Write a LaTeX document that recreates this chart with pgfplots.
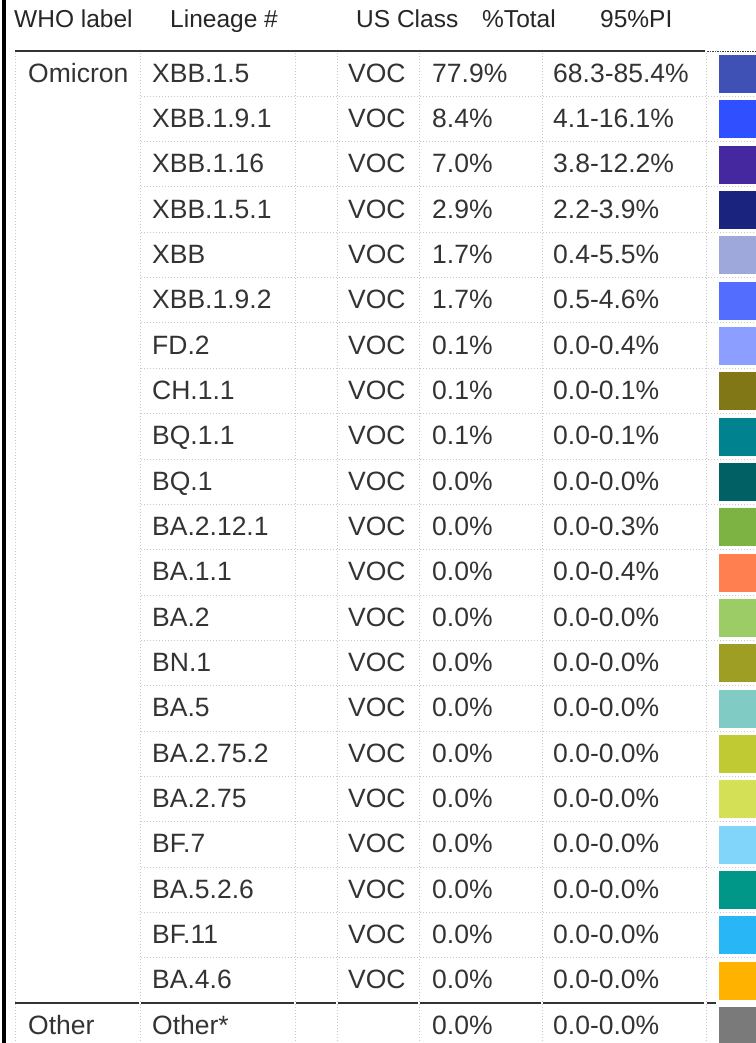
\documentclass[border=0pt]{standalone}
\usepackage{pgfplots}
\pgfplotsset{compat=1.18}
\usepackage{pgfplotstable}
\usepackage{fontspec}
\setmainfont{Liberation Sans}
\pgfplotsset{/pgf/number format/assume math mode=true}

\definecolor{tx}{HTML}{333333}
\definecolor{gridc}{HTML}{C8C8C8}
\definecolor{c0}{HTML}{3F51B5}
\definecolor{c1}{HTML}{304FFE}
\definecolor{c2}{HTML}{4527A0}
\definecolor{c3}{HTML}{1A237E}
\definecolor{c4}{HTML}{9FA8DA}
\definecolor{c5}{HTML}{536DFE}
\definecolor{c6}{HTML}{8C9EFF}
\definecolor{c7}{HTML}{827717}
\definecolor{c8}{HTML}{00838F}
\definecolor{c9}{HTML}{006064}
\definecolor{c10}{HTML}{7CB342}
\definecolor{c11}{HTML}{FF7F50}
\definecolor{c12}{HTML}{9CCC65}
\definecolor{c13}{HTML}{9E9D24}
\definecolor{c14}{HTML}{80CBC4}
\definecolor{c15}{HTML}{C0CA33}
\definecolor{c16}{HTML}{D4E157}
\definecolor{c17}{HTML}{81D4FA}
\definecolor{c18}{HTML}{009688}
\definecolor{c19}{HTML}{29B6F6}
\definecolor{c20}{HTML}{FFB300}
\definecolor{c21}{HTML}{7A7A7A}

\newcommand\bodyfont{\fontsize{26.5bp}{31bp}\selectfont}
\newcommand\headfont{\fontsize{24.5bp}{28bp}\selectfont}

\tikzset{
  txt/.style={font=\bodyfont, text=tx, anchor=base west, inner sep=0pt},
  dots/.style={gridc, line width=1bp, dash pattern=on 1.2bp off 1.8bp},
}

\pgfplotstableread{
row lineage us cls total lo hi
0 XBB.1.5 VOC c0 77.9 68.3 85.4
1 XBB.1.9.1 VOC c1 8.4 4.1 16.1
2 XBB.1.16 VOC c2 7.0 3.8 12.2
3 XBB.1.5.1 VOC c3 2.9 2.2 3.9
4 XBB VOC c4 1.7 0.4 5.5
5 XBB.1.9.2 VOC c5 1.7 0.5 4.6
6 FD.2 VOC c6 0.1 0.0 0.4
7 CH.1.1 VOC c7 0.1 0.0 0.1
8 BQ.1.1 VOC c8 0.1 0.0 0.1
9 BQ.1 VOC c9 0.0 0.0 0.0
10 BA.2.12.1 VOC c10 0.0 0.0 0.3
11 BA.1.1 VOC c11 0.0 0.0 0.4
12 BA.2 VOC c12 0.0 0.0 0.0
13 BN.1 VOC c13 0.0 0.0 0.0
14 BA.5 VOC c14 0.0 0.0 0.0
15 BA.2.75.2 VOC c15 0.0 0.0 0.0
16 BA.2.75 VOC c16 0.0 0.0 0.0
17 BF.7 VOC c17 0.0 0.0 0.0
18 BA.5.2.6 VOC c18 0.0 0.0 0.0
19 BF.11 VOC c19 0.0 0.0 0.0
20 BA.4.6 VOC c20 0.0 0.0 0.0
21 Other* {} c21 0.0 0.0 0.0
}\datatable

\begin{document}
\begin{tikzpicture}
\begin{axis}[
  width=756bp, height=1043bp, scale only axis,
  xmin=0, xmax=756, ymin=0, ymax=1043, y dir=reverse,
  axis lines=none, ticks=none, clip=false,
]
% grid: horizontal dotted row separators
\pgfplotsinvokeforeach{1,...,20}{
  \draw[dots] (axis cs:141,{51+45.333*#1}) -- (axis cs:756,{51+45.333*#1});
}
% vertical dotted lines
\pgfplotsinvokeforeach{15,140,295,337,419,542,706}{
  \draw[dots] (axis cs:#1,53) -- (axis cs:#1,1043);
}
% header rule
\draw[tx, line width=2bp] (axis cs:15,51.5) -- (axis cs:705,51.5);
\draw[black!75, line width=1.6bp, dash pattern=on 1.5bp off 1bp] (axis cs:707,51.5) -- (axis cs:756,51.5);
% separator above Other
\draw[tx, line width=2bp] (axis cs:15,1003) -- (axis cs:139,1003);
\draw[tx, line width=2bp] (axis cs:141,1003) -- (axis cs:294,1003);
\draw[tx, line width=2bp] (axis cs:296,1003) -- (axis cs:336,1003);
\draw[tx, line width=2bp] (axis cs:338,1003) -- (axis cs:418,1003);
\draw[tx, line width=2bp] (axis cs:420,1003) -- (axis cs:541,1003);
\draw[tx, line width=2bp] (axis cs:543,1003) -- (axis cs:704,1003);
\draw[tx, line width=2bp] (axis cs:707,1003) -- (axis cs:716,1003);
% left black bar
\fill[black] (axis cs:1.5,0) rectangle (axis cs:6,1043);

% header
\node[txt, font=\headfont, text=black!85] at (axis cs:14,27.5) {WHO label};
\node[txt, font=\headfont, text=black!85] at (axis cs:170,27.5) {Lineage \#};
\node[txt, font=\headfont, text=black!85] at (axis cs:356,27.5) {US Class};
\node[txt, font=\headfont, text=black!85] at (axis cs:482,27.5) {\%Total};
\node[txt, font=\headfont, text=black!85] at (axis cs:600,27.5) {95\%PI};

% swatches
\addplot[scatter, only marks, mark=square*, mark size=18.6bp,
  point meta=explicit symbolic,
  scatter/classes={
    c0={mark=square*,c0}, c1={mark=square*,c1}, c2={mark=square*,c2},
    c3={mark=square*,c3}, c4={mark=square*,c4}, c5={mark=square*,c5},
    c6={mark=square*,c6}, c7={mark=square*,c7}, c8={mark=square*,c8},
    c9={mark=square*,c9}, c10={mark=square*,c10}, c11={mark=square*,c11},
    c12={mark=square*,c12}, c13={mark=square*,c13}, c14={mark=square*,c14},
    c15={mark=square*,c15}, c16={mark=square*,c16}, c17={mark=square*,c17},
    c18={mark=square*,c18}, c19={mark=square*,c19}, c20={mark=square*,c20},
    c21={mark=square*,c21}}]
  table[x expr=737.5, y expr={51+45.333*(\thisrow{row}+0.5)}, meta=cls] {\datatable};

% WHO label
\addplot[only marks, mark=none, point meta=explicit symbolic,
  nodes near coords={\pgfplotspointmeta}, nodes near coords style={txt}]
  coordinates {(28,82.2) [Omicron] (28,1034.1) [Other]};

% lineage
\addplot[only marks, mark=none, point meta=explicit symbolic,
  nodes near coords={\pgfplotspointmeta}, nodes near coords style={txt}]
  table[x expr=152, y expr={51+45.333*(\thisrow{row}+0.5)+8.5}, meta=lineage] {\datatable};

% US class
\addplot[only marks, mark=none, point meta=explicit symbolic,
  nodes near coords={\pgfplotspointmeta}, nodes near coords style={txt}]
  table[x expr=348, y expr={51+45.333*(\thisrow{row}+0.5)+8.5}, meta=us] {\datatable};

% %Total
\addplot[only marks, mark=none, point meta=explicit,
  nodes near coords={\pgfmathprintnumber[fixed,fixed zerofill,precision=1]{\pgfplotspointmeta}\%},
  nodes near coords style={txt}]
  table[x expr=432, y expr={51+45.333*(\thisrow{row}+0.5)+8.5}, meta=total] {\datatable};

% 95% PI
\addplot[only marks, mark=none, point meta=explicit,
  visualization depends on={\thisrow{hi} \as \hival},
  nodes near coords={\pgfmathprintnumber[fixed,fixed zerofill,precision=1]{\pgfplotspointmeta}-\pgfmathprintnumber[fixed,fixed zerofill,precision=1]{\hival}\%},
  nodes near coords style={txt}]
  table[x expr=553, y expr={51+45.333*(\thisrow{row}+0.5)+8.5}, meta=lo] {\datatable};
\end{axis}
\pgfresetboundingbox
\path[use as bounding box] (current axis.south west) rectangle (current axis.north east);
\end{tikzpicture}
\end{document}
